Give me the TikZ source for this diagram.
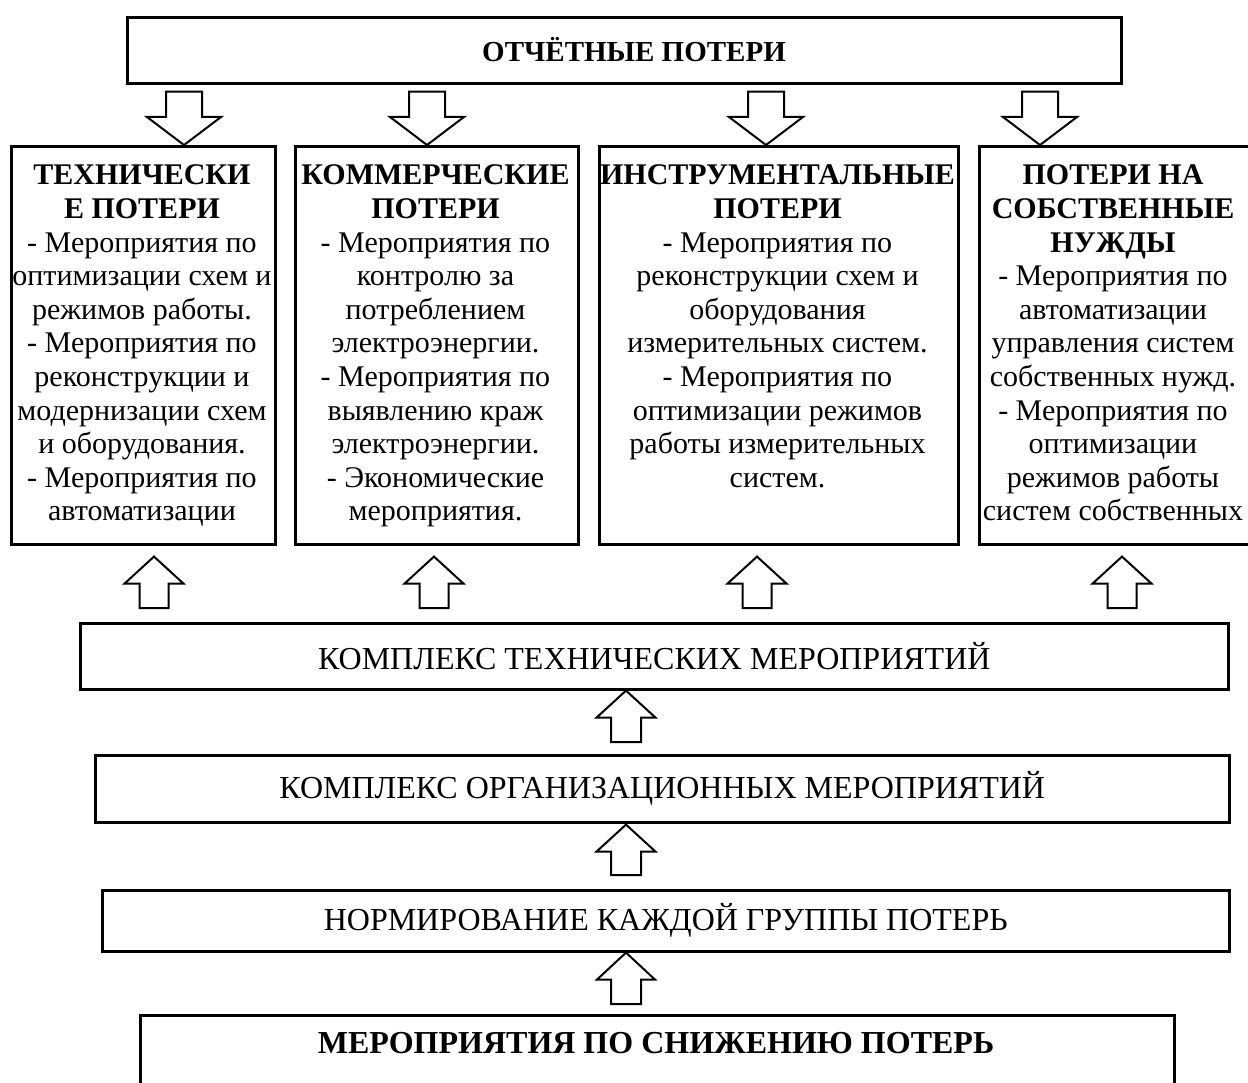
\documentclass[tikz,border=0pt]{standalone}
\usepackage{fontspec}
\setmainfont{Liberation Serif}
\usetikzlibrary{calc}
\tikzset{
  box/.style={draw, line width=2.6pt, rectangle, inner sep=0pt, anchor=north west},
  blk/.style={draw, line width=2pt, fill=white, line join=miter},
  txt/.style={inner sep=0pt, font=\fontsize{30}{33.6}\selectfont},
  widetxt/.style={inner sep=0pt, font=\fontsize{32}{36}\selectfont},
}
\newcommand\coltext[1]{\begin{tabular}[t]{@{}c@{}}#1\end{tabular}}
% down block arrow: #1 x, #2 source anchor, #3 target anchor, #4 base gap, #5 tip gap, #6 shaft half, #7 head half
\newcommand\blkdown[7]{%
  \draw[blk] let \p1=(#2), \p2=(#3) in
   ({#1pt-#6pt},{\y1-#4pt}) -- ({#1pt+#6pt},{\y1-#4pt}) -- ({#1pt+#6pt},{\y2+#5pt+28pt})
   -- ({#1pt+#7pt},{\y2+#5pt+28pt}) -- ({#1pt},{\y2+#5pt}) -- ({#1pt-#7pt},{\y2+#5pt+28pt})
   -- ({#1pt-#6pt},{\y2+#5pt+28pt}) -- cycle;}
\newcommand\blkup[7]{%
  \draw[blk] let \p1=(#2), \p2=(#3) in
   ({#1pt-#6pt},{\y1+#4pt}) -- ({#1pt+#6pt},{\y1+#4pt}) -- ({#1pt+#6pt},{\y2-#5pt-27pt})
   -- ({#1pt+#7pt},{\y2-#5pt-27pt}) -- ({#1pt},{\y2-#5pt}) -- ({#1pt-#7pt},{\y2-#5pt-27pt})
   -- ({#1pt-#6pt},{\y2-#5pt-27pt}) -- cycle;}
\begin{document}
\begin{tikzpicture}[x=1pt,y=-1pt]
\useasboundingbox[fill=white] (0,0) rectangle (1248,1083);
\clip (0,0) rectangle (1248,1083);

% top box
\node[box, minimum width=994pt, minimum height=66pt] (top) at (126,16) {};
\node[inner sep=0pt, font=\fontsize{29}{33}\selectfont\bfseries] (toptxt) at (634,50) {ОТЧЁТНЫЕ ПОТЕРИ};

% four column boxes
\node[box, minimum width=264pt, minimum height=398pt] (b1) at (10,145) {};
\node[box, minimum width=283pt, minimum height=398pt] (b2) at (294,145) {};
\node[box, minimum width=359pt, minimum height=398pt] (b3) at (598,145) {};
\node[box, minimum width=290pt, minimum height=398pt] (b4) at (978,145) {};

\node[txt, anchor=base] (t1) at (142,185) {\coltext{\textbf{ТЕХНИЧЕСКИ}\\\textbf{Е ПОТЕРИ}\\- Мероприятия по\\оптимизации схем и\\режимов работы.\\- Мероприятия по\\реконструкции и\\модернизации схем\\и оборудования.\\- Мероприятия по\\автоматизации}};
\node[txt, anchor=base] (t2) at (435.5,185) {\coltext{\textbf{КОММЕРЧЕСКИЕ}\\\textbf{ПОТЕРИ}\\- Мероприятия по\\контролю за\\потреблением\\электроэнергии.\\- Мероприятия по\\выявлению краж\\электроэнергии.\\- Экономические\\мероприятия.}};
\node[txt, anchor=base] (t3) at (777.5,185) {\coltext{\textbf{ИНСТРУМЕНТАЛЬНЫЕ}\\\textbf{ПОТЕРИ}\\- Мероприятия по\\реконструкции схем и\\оборудования\\измерительных систем.\\- Мероприятия по\\оптимизации режимов\\работы измерительных\\систем.}};
\node[txt, anchor=base] (t4) at (1113,185) {\coltext{\textbf{ПОТЕРИ НА}\\\textbf{СОБСТВЕННЫЕ}\\\textbf{НУЖДЫ}\\- Мероприятия по\\автоматизации\\управления систем\\собственных нужд.\\- Мероприятия по\\оптимизации\\режимов работы\\систем собственных}};

% wide boxes
\node[box, minimum width=1148pt, minimum height=66pt] (tech) at (79,622) {};
\node[widetxt] (techtxt) at (tech.center) {КОМПЛЕКС ТЕХНИЧЕСКИХ МЕРОПРИЯТИЙ};
\node[box, minimum width=1134pt, minimum height=67pt] (org) at (94,754) {};
\node[widetxt] (orgtxt) at (org.center) {КОМПЛЕКС ОРГАНИЗАЦИОННЫХ МЕРОПРИЯТИЙ};
\node[box, minimum width=1127pt, minimum height=61pt] (norm) at (101,889) {};
\node[widetxt] (normtxt) at (norm.center) {НОРМИРОВАНИЕ КАЖДОЙ ГРУППЫ ПОТЕРЬ};
\node[box, minimum width=1034pt, minimum height=100pt] (meas) at (139,1014) {};
\node[widetxt, font=\fontsize{32}{36}\selectfont\bfseries] (meastxt) at (656,1043) {МЕРОПРИЯТИЯ ПО СНИЖЕНИЮ ПОТЕРЬ};

% down arrows
\blkdown{184}{top.south}{b1.north}{7}{0}{18}{37}
\blkdown{427}{top.south}{b2.north}{7}{0}{18}{37}
\blkdown{766}{top.south}{b3.north}{7}{0}{18}{37}
\blkdown{1040}{top.south}{b4.north}{7}{0}{18}{37}

% up arrows
\blkup{154}{tech.north}{b1.south}{14}{11}{14.5}{29.5}
\blkup{434}{tech.north}{b2.south}{14}{11}{14.5}{29.5}
\blkup{757}{tech.north}{b3.south}{14}{11}{14.5}{29.5}
\blkup{1122}{tech.north}{b4.south}{14}{11}{14.5}{29.5}
\blkup{626}{org.north}{tech.south}{12}{0}{15}{29.5}
\blkup{626}{norm.north}{org.south}{14}{1}{15}{29.5}
\blkup{626}{meas.north}{norm.south}{10}{0}{15}{29}
\end{tikzpicture}
\end{document}
